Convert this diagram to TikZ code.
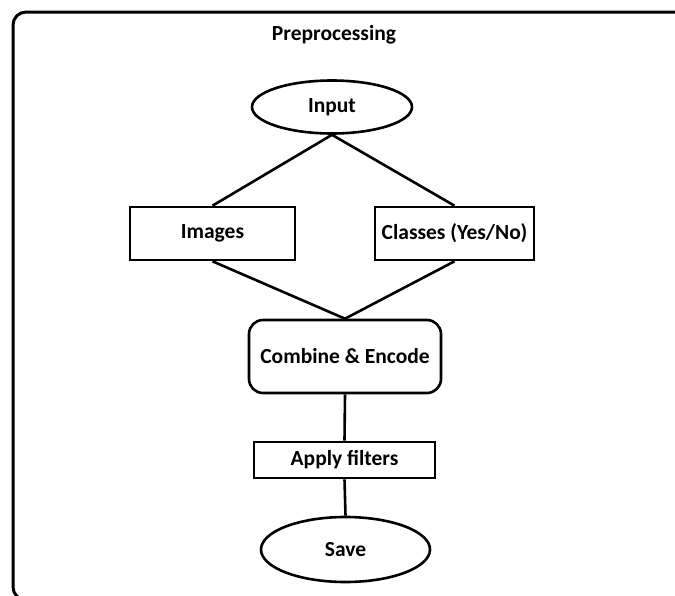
\documentclass[tikz,border=0pt]{standalone}
\usepackage{fontspec}
\setmainfont{Carlito}
\usetikzlibrary{shapes.geometric}
\begin{document}
\begin{tikzpicture}[x=1pt,y=-1pt,
  every node/.style={font=\fontsize{21.5}{25}\selectfont\bfseries, line width=2.6pt, inner sep=0pt},
  oval/.style={draw, ellipse},
  box/.style={draw, rectangle},
  rbox/.style={draw, rectangle, rounded corners=14pt},
  link/.style={line width=2.6pt}]
\useasboundingbox (0,0) rectangle (675,595);
\begin{scope}
\clip (0,0) rectangle (675,595);
\draw[line width=3pt, rounded corners=13pt] (13,12) rectangle (720,600);
\end{scope}
\node (title) at (334,35) {Preprocessing};
\node[oval, minimum width=160pt, minimum height=53pt] (input) at (332,107) {Input};
\node[box, minimum width=165pt, minimum height=53pt] (images) at (212.5,233.5) {Images};
\node[box, minimum width=159pt, minimum height=53pt] (classes) at (454.5,233.5) {Classes (Yes/No)};
\node[rbox, minimum width=192pt, minimum height=73pt] (combine) at (345,356.5) {Combine \& Encode};
\node[box, minimum width=181pt, minimum height=36pt] (filters) at (344.5,460) {Apply filters};
\node[oval, minimum width=169pt, minimum height=65pt] (save) at (345.5,549.5) {Save};
\draw[link] (input.south) -- (images.north);
\draw[link] (input.south) -- (classes.north);
\draw[link] (images.south) -- (combine.north);
\draw[link] (classes.south) -- (combine.north);
\draw[link] (combine.south) -- (filters.north);
\draw[link] (filters.south) -- (save.north);
\end{tikzpicture}
\end{document}
